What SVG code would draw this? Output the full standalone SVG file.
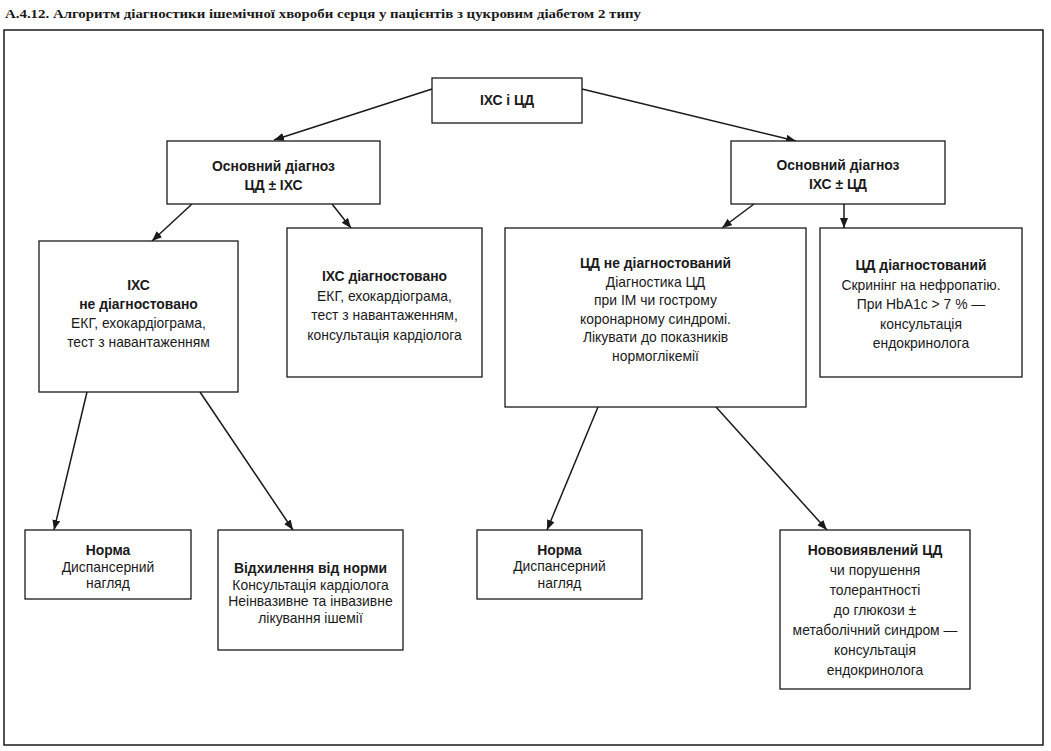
<svg xmlns="http://www.w3.org/2000/svg" width="1051" height="751" viewBox="0 0 1051 751">
<style>
.box{fill:#fff;stroke:#1a1a1a;stroke-width:1.3}
.t{font-family:"Liberation Sans",Arial,sans-serif;font-size:13.9px;fill:#1a1a1a;text-anchor:middle}
.b{font-weight:bold}
.c{stroke:#1a1a1a;stroke-width:1.5;fill:none;marker-end:url(#ah)}
</style>
<defs>
<marker id="ah" markerUnits="userSpaceOnUse" markerWidth="12" markerHeight="10" refX="10" refY="4" orient="auto">
<path d="M0,0 L10,4 L0,8 Z" fill="#1a1a1a"/>
</marker>
</defs>
<rect width="1051" height="751" fill="#fff"/>
<text x="5" y="18" font-family="'Liberation Serif','Times New Roman',serif" font-weight="bold" font-size="13.5" fill="#1a1a1a" textLength="636" lengthAdjust="spacingAndGlyphs">А.4.12. Алгоритм діагностики ішемічної хвороби серця у пацієнтів з цукровим діабетом 2 типу</text>
<rect x="4" y="30" width="1039" height="715" fill="none" stroke="#1a1a1a" stroke-width="1.5"/>

<g id="connectors">
<line class="c" x1="432" y1="89" x2="274" y2="140"/>
<line class="c" x1="582" y1="89" x2="796" y2="141"/>
<line class="c" x1="192" y1="204" x2="152" y2="241"/>
<line class="c" x1="332" y1="204" x2="351" y2="228"/>
<line class="c" x1="754" y1="204" x2="722" y2="228"/>
<line class="c" x1="844" y1="204" x2="844" y2="228"/>
<line class="c" x1="87" y1="392" x2="54" y2="530"/>
<line class="c" x1="200" y1="392" x2="293" y2="530"/>
<line class="c" x1="598" y1="407" x2="547" y2="530"/>
<line class="c" x1="716" y1="407" x2="827" y2="530"/>
</g>

<g id="n_root">
<rect class="box" x="432" y="78" width="150" height="45"/>
<text class="t b" x="507" y="105">ІХС і ЦД</text>
</g>

<g id="n_main_left">
<rect class="box" x="167" y="141" width="213" height="63"/>
<text class="t b" x="273.5" y="171">Основний діагноз</text>
<text class="t b" x="273.5" y="190">ЦД ± ІХС</text>
</g>

<g id="n_main_right">
<rect class="box" x="731" y="141" width="214" height="63"/>
<text class="t b" x="838" y="170">Основний діагноз</text>
<text class="t b" x="838" y="189">ІХС ± ЦД</text>
</g>

<g id="n_ihs_not">
<rect class="box" x="39" y="241" width="199" height="151"/>
<text class="t b" x="138.5" y="290">ІХС</text>
<text class="t b" x="138.5" y="309">не діагностовано</text>
<text class="t" x="138.5" y="328">ЕКГ, ехокардіограма,</text>
<text class="t" x="138.5" y="347">тест з навантаженням</text>
</g>

<g id="n_ihs_yes">
<rect class="box" x="287" y="228" width="195" height="149"/>
<text class="t b" x="384.5" y="281">ІХС діагностовано</text>
<text class="t" x="384.5" y="300.5">ЕКГ, ехокардіограма,</text>
<text class="t" x="384.5" y="320">тест з навантаженням,</text>
<text class="t" x="384.5" y="339.5">консультація кардіолога</text>
</g>

<g id="n_cd_not">
<rect class="box" x="505" y="228" width="301" height="179"/>
<text class="t b" x="655.5" y="268">ЦД не діагностований</text>
<text class="t" x="655.5" y="286.5">Діагностика ЦД</text>
<text class="t" x="655.5" y="305">при ІМ чи гострому</text>
<text class="t" x="655.5" y="323.5">коронарному синдромі.</text>
<text class="t" x="655.5" y="342">Лікувати до показників</text>
<text class="t" x="655.5" y="360.5">нормоглікемії</text>
</g>

<g id="n_cd_yes">
<rect class="box" x="820" y="228" width="202" height="149"/>
<text class="t b" x="921" y="270">ЦД діагностований</text>
<text class="t" x="921" y="289.5">Скринінг на нефропатію.</text>
<text class="t" x="921" y="309">При HbA1c &gt; 7 % —</text>
<text class="t" x="921" y="328.5">консультація</text>
<text class="t" x="921" y="348">ендокринолога</text>
</g>

<g id="n_norma_left">
<rect class="box" x="25" y="530" width="166" height="69"/>
<text class="t b" x="108" y="555">Норма</text>
<text class="t" x="108" y="571.5">Диспансерний</text>
<text class="t" x="108" y="588">нагляд</text>
</g>

<g id="n_deviation">
<rect class="box" x="218" y="530" width="185" height="120"/>
<text class="t b" x="310.5" y="573">Відхилення від норми</text>
<text class="t" x="310.5" y="589.5">Консультація кардіолога</text>
<text class="t" x="310.5" y="606">Неінвазивне та інвазивне</text>
<text class="t" x="310.5" y="622.5">лікування ішемії</text>
</g>

<g id="n_norma_right">
<rect class="box" x="477" y="530" width="165" height="69"/>
<text class="t b" x="559.5" y="554.5">Норма</text>
<text class="t" x="559.5" y="571">Диспансерний</text>
<text class="t" x="559.5" y="587.5">нагляд</text>
</g>

<g id="n_new_cd">
<rect class="box" x="780" y="530" width="190" height="159"/>
<text class="t b" x="875" y="555">Нововиявлений ЦД</text>
<text class="t" x="875" y="575">чи порушення</text>
<text class="t" x="875" y="595">толерантності</text>
<text class="t" x="875" y="615">до глюкози ±</text>
<text class="t" x="875" y="635">метаболічний синдром —</text>
<text class="t" x="875" y="655">консультація</text>
<text class="t" x="875" y="675">ендокринолога</text>
</g>
</svg>
